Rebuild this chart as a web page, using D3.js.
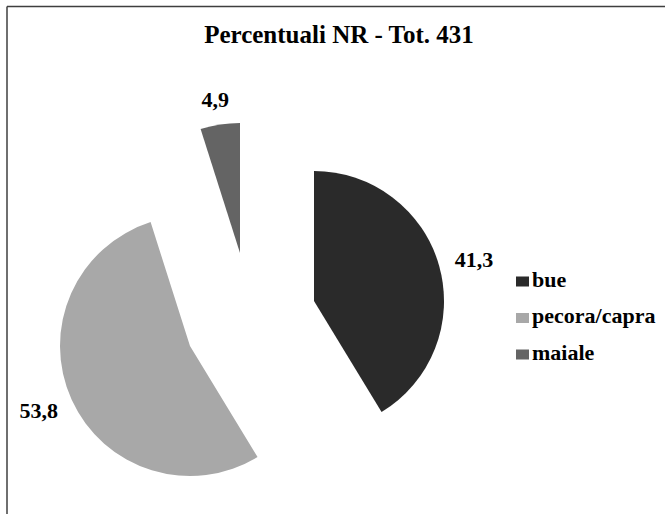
<!DOCTYPE html>
<html><head><meta charset="utf-8">
<script src="https://cdn.jsdelivr.net/npm/d3@7"></script>
<style>html,body{margin:0;padding:0;background:#fff;}
text{font-family:"Liberation Serif","Tinos","Times New Roman","Nimbus Roman","DejaVu Serif",serif;}</style>
</head><body>
<script>
const title = "Percentuali NR - Tot. 431";
const categories = ["bue", "pecora/capra", "maiale"];
const values = [41.3, 53.8, 4.9];
const labels = ["41,3", "53,8", "4,9"];
const colors = ["#2a2a2a", "#a8a8a8", "#646464"];

const W = 665, H = 514;
const svg = d3.select("body").append("svg").attr("width", W).attr("height", H);

// frame (only top and left edges visible)
svg.append("line").attr("x1", 7).attr("y1", 6.5).attr("x2", W).attr("y2", 6.5)
  .attr("stroke", "#3f3f3f").attr("stroke-width", 1.5);
svg.append("line").attr("x1", 7).attr("y1", 6.5).attr("x2", 7).attr("y2", H)
  .attr("stroke", "#3f3f3f").attr("stroke-width", 1.5);

svg.append("text").attr("x", 339).attr("y", 43).attr("text-anchor", "middle")
  .attr("font-size", 25).attr("font-weight", "bold").text(title);

const R = 130;
// vertex of each exploded slice
const origins = [[314, 301], [190, 346], [240, 253]];

const pie = d3.pie().sort(null).value(d => d).startAngle(0).endAngle(2 * Math.PI);
const arcs = pie(values);
const arc = d3.arc().innerRadius(0).outerRadius(R);

const g = svg.selectAll("g.slice").data(arcs).enter().append("g")
  .attr("class", "slice")
  .attr("transform", (d, i) => `translate(${origins[i][0]},${origins[i][1]})`);
g.append("path").attr("d", arc).attr("fill", (d, i) => colors[i]);

const r2 = 147;
g.append("text")
  .attr("font-size", 22).attr("font-weight", "bold")
  .attr("text-anchor", "middle").attr("dominant-baseline", "central")
  .each(function (d, i) {
    const a = (d.startAngle + d.endAngle) / 2;
    const sx = Math.sin(a), sy = -Math.cos(a);
    const t = d3.select(this).text(labels[i]);
    const bb = this.getBBox();
    const x = r2 * sx + (bb.width / 2) * sx;
    const y = r2 * sy + 8 * sy;
    t.attr("x", x).attr("y", y);
  });

// legend
const leg = svg.selectAll("g.leg").data(categories).enter().append("g")
  .attr("class", "leg")
  .attr("transform", (d, i) => `translate(516,${276.5 + i * 36.5})`);
leg.append("rect").attr("width", 13).attr("height", 10).attr("fill", (d, i) => colors[i]);
leg.append("text").attr("x", 16).attr("y", 10).attr("font-size", 22)
  .attr("font-weight", "bold").text(d => d);
</script>
</body></html>
